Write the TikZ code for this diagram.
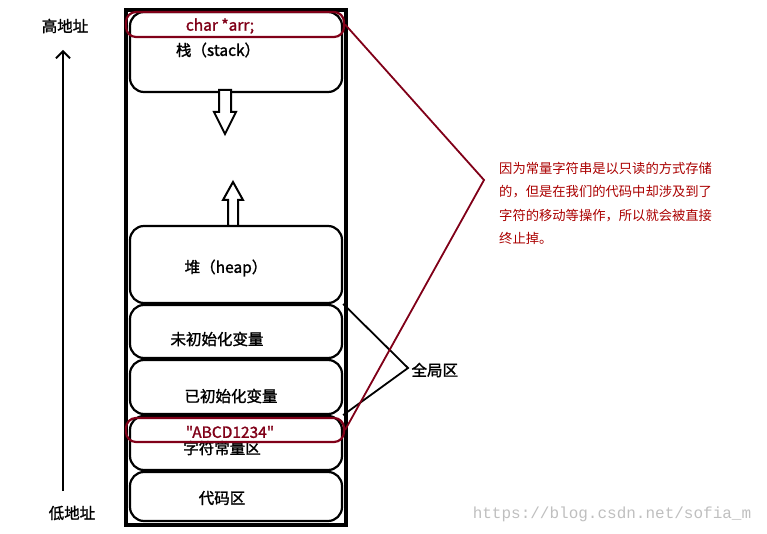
\documentclass[tikz,border=0pt]{standalone}
\usepackage{fontspec}
\usetikzlibrary{arrows.meta}
\setmainfont{Noto Sans CJK SC}
\newfontfamily\cjkb[FakeBold=1.5]{Noto Sans CJK SC}
\setmonofont{Liberation Mono}
\begin{document}
\begin{tikzpicture}[x=1pt,y=-1pt,
  seg/.style={draw,line width=2.2pt,rounded corners=14pt},
  lbl/.style={font=\cjkb\fontsize{15.5}{17}\selectfont},
  redl/.style={draw=myred,line width=2.2pt},
  bigarr/.style={draw,line width=2pt,fill=white}]
\definecolor{myred}{RGB}{128,0,24}
\definecolor{txtred}{RGB}{170,0,0}
\useasboundingbox (0,0) rectangle (767,534);
\draw[line width=3.5pt] (126,10) rectangle (346,525);
\node[seg,minimum width=212pt,minimum height=80pt] (stack) at (236,52) {};
\node[seg,minimum width=212pt,minimum height=77pt] (heap) at (236,264.5) {};
\node[seg,minimum width=212pt,minimum height=53pt] (uninit) at (236,331.5) {};
\node[seg,minimum width=212pt,minimum height=54pt] (init) at (236,387) {};
\node[seg,minimum width=212pt,minimum height=54pt] (const) at (236,443) {};
\node[seg,minimum width=212pt,minimum height=49pt] (code) at (236,496.5) {};
\node[lbl] (tstack) at (218,50) {栈（stack）};
\node[lbl] (theap) at (226,268) {堆（heap）};
\node[lbl] (tun) at (217,339) {未初始化变量};
\node[lbl] (tin) at (231,396) {已初始化变量};
\node[lbl] (tconst) at (222,448) {字符常量区};
\node[lbl] (tcode) at (222,498) {代码区};
\node[lbl,text=myred] (tarr) at (220,26) {char *arr;};
\node[lbl,text=myred] (tabc) at (230,432) {"ABCD1234"};
\node[redl,inner sep=0pt,minimum width=218pt,minimum height=25pt,rounded corners=10pt] (e1) at (235,24.5) {};
\node[redl,inner sep=0pt,minimum width=218pt,minimum height=24pt,rounded corners=10pt] (e2) at (235,430) {};
\draw[bigarr] (219,90)--(231,90)--(231,112)--(236,112)--(225,134)--(214,112)--(219,112)--cycle;
\draw[bigarr] (228,226)--(238,226)--(238,200)--(243,200)--(233,182)--(223,200)--(228,200)--cycle;
\node[lbl,anchor=west] (glob) at (408,370) {全局区};
\coordinate (gp) at (408,368);
\draw[line width=1.8pt] (uninit.north east) -- (gp) -- (init.south east);
\coordinate (rp) at (484,180);
\draw[myred,line width=1.8pt] (e1.east) -- (rp) -- (e2.east);
\node[anchor=north west,align=left,text=txtred,font=\fontsize{13.3}{23.3}\selectfont,inner sep=0pt] (note) at (499,162)
 {因为常量字符串是以只读的方式存储\\的，但是在我们的代码中却涉及到了\\字符的移动等操作，所以就会被直接\\终止掉。};
\node[lbl] (hi) at (65,26) {高地址};
\node[lbl] (lo) at (72,513) {低地址};
\coordinate (abot) at (63,491);
\coordinate (atop) at (63,50);
\draw[line width=1.8pt,-{Straight Barb[length=7pt,width=14pt]}] (abot) -- (atop);
\node[text=gray!50,font=\ttfamily\fontsize{16}{18}\selectfont] (wm) at (612,514) {https://blog.csdn.net/sofia\_m};
\end{tikzpicture}
\end{document}
